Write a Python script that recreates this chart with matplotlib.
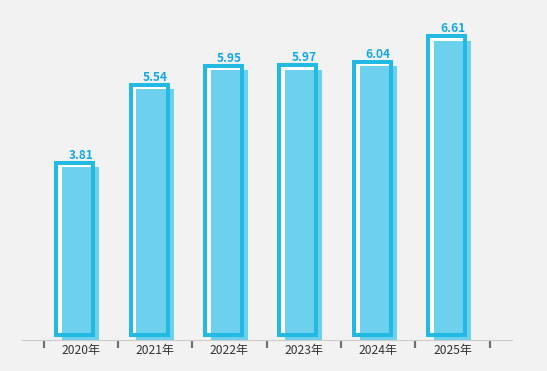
import numpy as np
import matplotlib
matplotlib.use("Agg")
import matplotlib.pyplot as plt

# --- Data ---
years = ["2020年", "2021年", "2022年", "2023年", "2024年", "2025年"]
values = [3.81, 5.54, 5.95, 5.97, 6.04, 6.61]

# --- Style ---
BG = "#f2f2f2"
FILL = "#6dd0ec"
EDGE = "#22bae2"
LABEL = "#12a8ea"

plt.rcParams["font.family"] = ["Noto Sans CJK SC", "DejaVu Sans"]

fig = plt.figure(figsize=(5.47, 3.71), dpi=100, facecolor=BG)
ax = fig.add_axes([0.0402, 0.0836, 0.8958, 0.8546])
ax.set_facecolor(BG)

x = np.arange(len(years))
w = 0.5
dx = -0.08   # outline frame shifted left
dy = 0.1     # ...and up

# white backing inside the frame
ax.bar(x + dx, values, width=w, bottom=dy, color="white", linewidth=0, zorder=2)
# filled bar
ax.bar(x, values, width=w, color=FILL, linewidth=0, zorder=3)
# frame on top
ax.bar(x + dx, values, width=w, bottom=dy, facecolor="none",
       edgecolor=EDGE, linewidth=2.9, zorder=4)

for xi, v in zip(x, values):
    ax.annotate(f"{v:.2f}", xy=(xi, v + dy), xytext=(0, 4),
                textcoords="offset pixels", ha="center", va="baseline",
                fontsize=8.6, fontweight="bold", color=LABEL, zorder=5)

ax.set_xlim(-0.79, 5.8)
ax.set_ylim(0, 7)

# boundary ticks (major) and centred labels (minor)
ax.set_xticks(np.arange(len(years) + 1) - 0.5)
ax.set_xticklabels([])
ax.set_xticks(x, minor=True)
ax.set_xticklabels(years, minor=True)
ax.tick_params(axis="x", which="major", direction="out", length=5.8,
               width=1.6, color="#707070")
ax.tick_params(axis="x", which="minor", length=0, pad=3,
               labelsize=8.7, labelcolor="#333333")
ax.set_yticks([])

for s in ["top", "right", "left"]:
    ax.spines[s].set_visible(False)
ax.spines["bottom"].set_color("#cccccc")
ax.spines["bottom"].set_linewidth(0.8)

fig.savefig("out.png", dpi=100, facecolor=BG)
